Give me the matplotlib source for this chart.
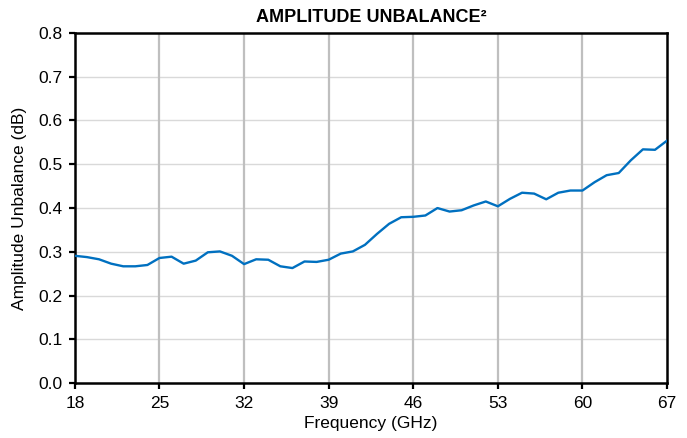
import matplotlib.pyplot as plt
import numpy as np

plt.rcParams['font.family'] = ['Liberation Sans', 'DejaVu Sans']

# frequency (GHz) and amplitude unbalance (dB)
freq = np.arange(18, 68)
unbalance = [0.291, 0.288, 0.283, 0.273, 0.267, 0.267, 0.270, 0.286, 0.289, 0.273,
             0.280, 0.299, 0.301, 0.291, 0.272, 0.283, 0.282, 0.267, 0.263, 0.278,
             0.277, 0.282, 0.296, 0.301, 0.316, 0.341, 0.364, 0.379, 0.380, 0.383,
             0.400, 0.392, 0.395, 0.406, 0.415, 0.404, 0.421, 0.435, 0.433, 0.420,
             0.435, 0.440, 0.440, 0.459, 0.475, 0.480, 0.509, 0.534, 0.533, 0.554]

x_ticks = [18, 25, 32, 39, 46, 53, 60, 67]
y_ticks = np.arange(0, 0.81, 0.1)

fig = plt.figure(figsize=(6.87, 4.38), dpi=100)
ax = fig.add_axes([0.109, 0.125, 0.862, 0.800])

ax.plot(freq, unbalance, color='#0070C0', lw=1.7, zorder=3)

ax.set_xlim(18, 67)
ax.set_ylim(0, 0.8)
ax.set_xticks(x_ticks)
ax.set_yticks(y_ticks)
ax.set_yticklabels([f'{v:.1f}' for v in y_ticks])

# vertical grid darker/thicker, horizontal lighter
for xv in x_ticks[1:-1]:
    ax.axvline(xv, color='#bfbfbf', lw=1.6, zorder=1)
for yv in y_ticks[1:-1]:
    ax.axhline(yv, color='#d9d9d9', lw=1.0, zorder=0)

for sp in ax.spines.values():
    sp.set_linewidth(1.8)
    sp.set_color('black')
ax.tick_params(direction='out', length=4, width=1.6, labelsize=12.5)
ax.tick_params(axis='x', pad=5)
ax.tick_params(axis='y', pad=5)

ax.set_xlabel('Frequency (GHz)', fontsize=12.5, labelpad=4)
ax.set_ylabel('Amplitude Unbalance (dB)', fontsize=12.5, labelpad=8)
ax.set_title('AMPLITUDE UNBALANCE²', fontsize=13, fontweight='bold', pad=8)

fig.savefig('out.png', dpi=100)
